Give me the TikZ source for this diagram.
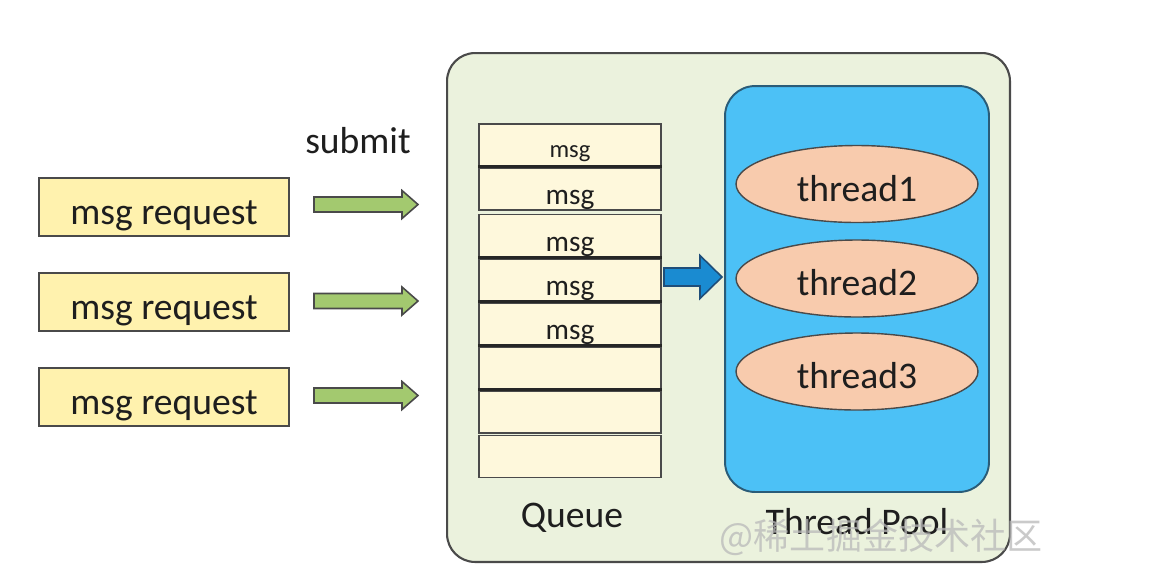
\documentclass[tikz,border=0pt]{standalone}
\usepackage{fontspec}
\setmainfont{Carlito}
\newfontfamily\cjk{Noto Sans CJK SC}
\usetikzlibrary{shapes.geometric}
\definecolor{outerfill}{HTML}{EBF2DD}
\definecolor{outerline}{HTML}{4A4A4A}
\definecolor{poolfill}{HTML}{4CC1F6}
\definecolor{poolline}{HTML}{2A5C78}
\definecolor{thrfill}{HTML}{F8CBAD}
\definecolor{reqfill}{HTML}{FFF2AE}
\definecolor{cellfill}{HTML}{FEF8DC}
\definecolor{garrowfill}{HTML}{A3C96F}
\definecolor{barrowfill}{HTML}{1A8BD1}
\definecolor{barrowline}{HTML}{1F4E79}
\definecolor{txt}{HTML}{1E1E1E}
\tikzset{
  outerbox/.style={draw=outerline, line width=1.2pt, fill=outerfill, rounded corners=0.56cm,
    minimum width=11.26cm, minimum height=10.18cm, inner sep=0pt},
  poolbox/.style={draw=poolline, line width=1.1pt, fill=poolfill, rounded corners=0.6cm,
    minimum width=5.28cm, minimum height=8.12cm, inner sep=0pt},
  thr/.style={ellipse, draw=outerline, line width=0.8pt, fill=thrfill,
    minimum width=4.84cm, minimum height=1.54cm, inner sep=0pt, text=txt, text height=19.5pt, text depth=0pt,
    font=\fontsize{21.4}{24}\selectfont},
  reqbox/.style={draw=outerline, line width=1pt, fill=reqfill, minimum width=5cm, minimum height=1.16cm,
    inner sep=0pt, text=txt, text height=19.5pt, text depth=0pt, font=\fontsize{21.4}{24}\selectfont},
  cell/.style={draw=outerline, line width=0.8pt, fill=cellfill, minimum width=3.64cm, minimum height=0.84cm,
    inner sep=0pt, text=txt, text height=18pt, text depth=0pt, font=\fontsize{16.7}{19}\selectfont},
  lbl/.style={text=txt, inner sep=0pt, font=\fontsize{21.4}{24}\selectfont},
  garrow/.style={draw=outerline, line width=0.9pt, fill=garrowfill, line join=miter},
  barrow/.style={draw=barrowline, line width=0.9pt, fill=barrowfill, line join=miter},
  thickline/.style={line width=1.6pt, draw=black!85}
}
\begin{document}
\begin{tikzpicture}[x=0.02cm, y=-0.02cm]
\useasboundingbox (0,0) rectangle (1152,579);
\fill[white] (0,0) rectangle (1152,579);

% outer container
\node[outerbox] (outer) at (728.5,307.5) {};
% thread pool
\node[poolbox] (pool) at (857,289) {};
\node[thr] (t1) at (857,184) {thread1};
\node[thr] (t2) at (857,278.5) {thread2};
\node[thr] (t3) at (857,371.5) {thread3};

% queue cells
\node[cell, font=\fontsize{14}{16}\selectfont, text height=14.5pt] (q1) at (570,145) {msg};
\node[cell] (q2) at (570,189) {msg};
\node[cell] (q3) at (570,235.5) {msg};
\node[cell] (q4) at (570,280) {msg};
\node[cell] (q5) at (570,324) {msg};
\node[cell] (q6) at (570,368) {};
\node[cell] (q7) at (570,412) {};
\node[cell] (q8) at (570,456.5) {};
\foreach \c in {q1,q3,q4,q5,q6} {
  \draw[thickline] (\c.south west) -- (\c.south east);
}

% labels
\node[lbl] (submit) at (358,141) {submit};
\node[lbl] (queue) at (572,518) {Queue};
\node[lbl] (poollbl) at (857,522) {Thread Pool};

% requests
\node[reqbox] (r1) at (164,207) {msg request};
\node[reqbox] (r2) at (164,302) {msg request};
\node[reqbox] (r3) at (164,397) {msg request};

% green block arrows
\foreach \cy/\nm in {204.5/g1, 301/g2, 395.5/g3} {
  \coordinate (\nm) at (314,\cy);
  \draw[garrow] (\nm) ++(0,-7.5) -- ++(88,0) -- ++(0,-6.5) -- ++(16,14) -- ++(-16,14)
     -- ++(0,-6.5) -- ++(-88,0) -- cycle;
}

% blue block arrow
\coordinate (b) at (664,277);
\draw[barrow] (b) ++(0,-9) -- ++(36,0) -- ++(0,-12.5) -- ++(22,21.5) -- ++(-22,21.5)
   -- ++(0,-12.5) -- ++(-36,0) -- cycle;

% watermark
\node[text=gray!55, opacity=0.75, inner sep=0pt, font=\cjk\fontsize{20.5}{24}\selectfont] (wm) at (881,537) {@稀土掘金技术社区};
\end{tikzpicture}
\end{document}
